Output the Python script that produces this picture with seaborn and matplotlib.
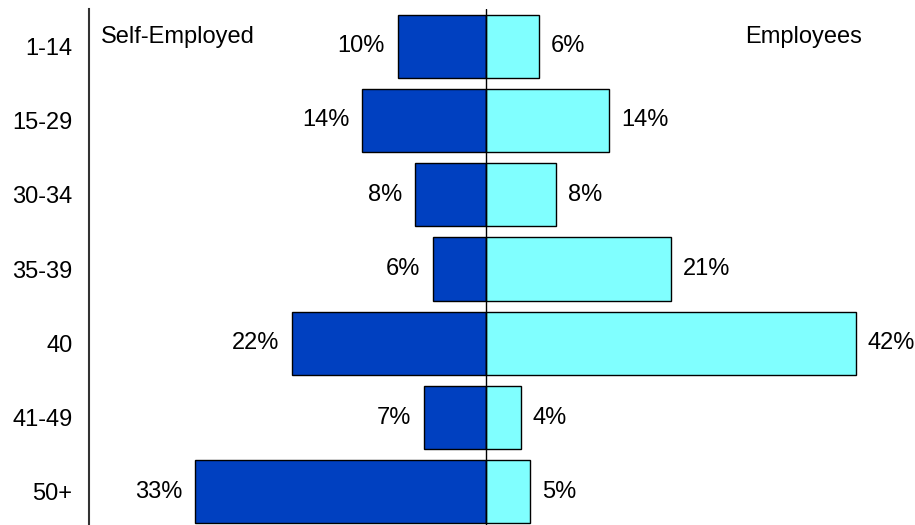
import matplotlib
matplotlib.use("Agg")
import matplotlib.pyplot as plt
import seaborn as sns
import pandas as pd

hours = ["1-14", "15-29", "30-34", "35-39", "40", "41-49", "50+"]
self_employed = [10, 14, 8, 6, 22, 7, 33]
employees = [6, 14, 8, 21, 42, 4, 5]

sns.set_theme(style="white")
plt.rcParams["font.family"] = ["Liberation Sans", "DejaVu Sans"]
plt.rcParams["text.color"] = "black"

df = pd.DataFrame({"hours": hours, "self": self_employed, "emp": employees})
df["self_neg"] = -df["self"]

fig = plt.figure(figsize=(9.15, 5.25), dpi=100)
ax = fig.add_axes([89 / 915, -4 / 525, 827 / 915, 520 / 525])

sns.barplot(data=df, x="self_neg", y="hours", orient="h", color="#0040C0",
            saturation=1, width=0.85, edgecolor="black", linewidth=1, ax=ax)
sns.barplot(data=df, x="emp", y="hours", orient="h", color="#80FFFF",
            saturation=1, width=0.85, edgecolor="black", linewidth=1, ax=ax)

ax.set_xlim(-45, 48.8)
ax.set_ylim(6.5, -0.5)
ax.axvline(0, color="black", linewidth=1)

FS = 17
for i, (s, e) in enumerate(zip(self_employed, employees)):
    ax.annotate(f"{s}%", (-s, i), xytext=(-9, 0), textcoords="offset points",
                ha="right", va="center", fontsize=FS, color="black")
    ax.annotate(f"{e}%", (e, i), xytext=(8.5, 0), textcoords="offset points",
                ha="left", va="center", fontsize=FS, color="black")

ax.text(-43.6, -0.12, "Self-Employed", ha="left", va="center", fontsize=FS,
        color="black")
ax.text(42.7, -0.12, "Employees", ha="right", va="center", fontsize=FS,
        color="black")

ax.set_xlabel("")
ax.set_ylabel("")
ax.set_xticks([])
ax.tick_params(axis="y", length=0, pad=12, labelsize=FS, colors="black")
for side in ["top", "right", "bottom"]:
    ax.spines[side].set_visible(False)
ax.spines["left"].set_color("#333333")
ax.spines["left"].set_linewidth(1.5)

fig.savefig("out.png", dpi=100)
